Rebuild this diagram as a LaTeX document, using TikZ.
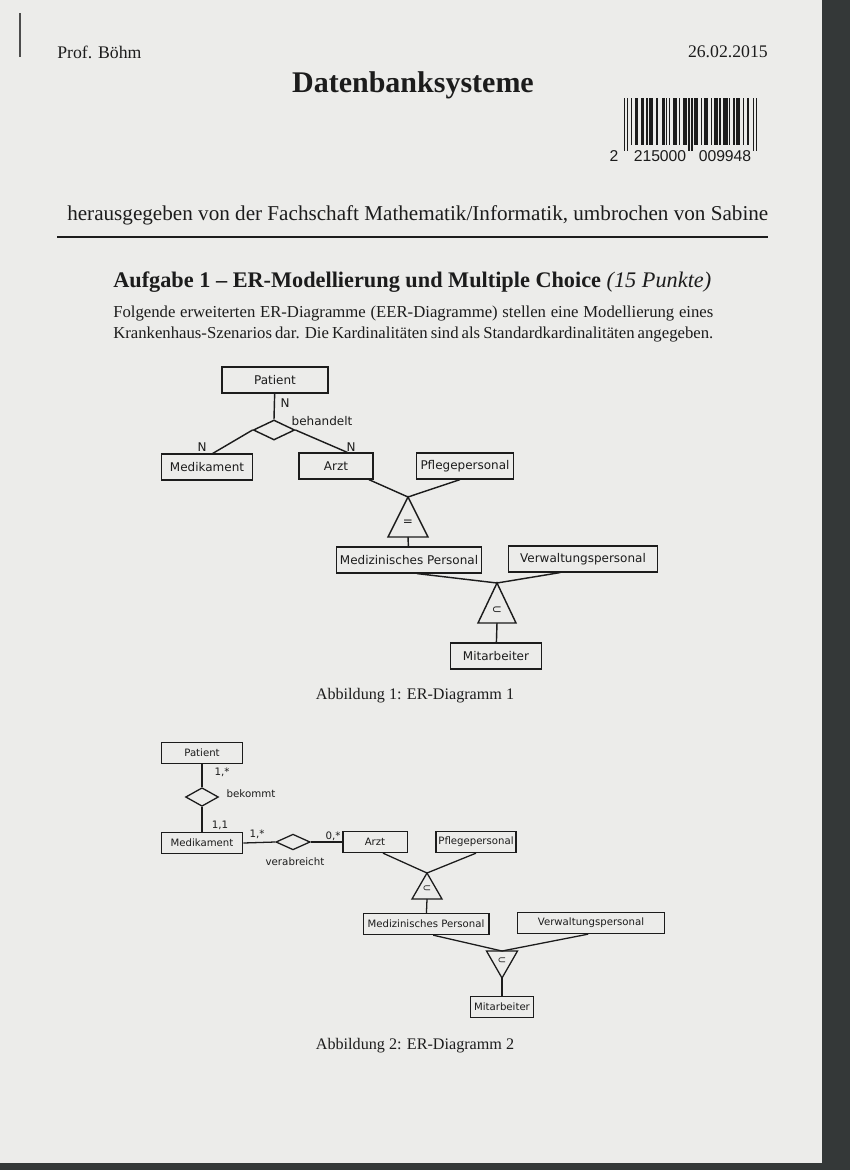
\documentclass[tikz,border=0pt]{standalone}
\usepackage{fontspec}
\setmainfont{Liberation Serif}
\newfontfamily\diafont{DejaVu Sans}
\newfontfamily\codefont{Liberation Sans}
\usetikzlibrary{shapes.geometric}

\definecolor{paper}{RGB}{236,236,234}
\definecolor{scanedge}{RGB}{52,56,56}
\definecolor{ink}{RGB}{28,28,28}

\tikzset{
	entity/.style={draw=ink, line width=1pt, minimum height=18pt, inner sep=1pt, font=\diafont\fontsize{8.4}{9}\selectfont},
	smallentity/.style={entity, line width=0.9pt, minimum height=14.7pt, font=\diafont\fontsize{7.1}{8}\selectfont},
	rel/.style={diamond, draw=ink, line width=1pt, inner sep=0pt},
	card/.style={inner sep=0pt, font=\diafont\fontsize{8.4}{9}\selectfont},
	smallcard/.style={inner sep=0pt, font=\diafont\fontsize{7.2}{8}\selectfont},
	link/.style={draw=ink, line width=1pt},
	smalllink/.style={draw=ink, line width=0.9pt},
	caption/.style={inner sep=0pt, font=\fontsize{11.3}{13}\selectfont}
}

\begin{document}
\begin{tikzpicture}[x=0.7pt, y=-0.7pt, text=ink]
	\fill[paper] (0,0) rectangle (850,1170);
	\fill[scanedge] (822,0) rectangle (850,1170);
	\fill[scanedge] (0,1163) rectangle (850,1170);
	\useasboundingbox (0,0) rectangle (850,1170);

	% Kopf
	\draw[gray!60!black, line width=1.3pt] (20,13) -- (20,57);
	\node[anchor=west, inner sep=0pt, font=\fontsize{12.4}{14}\selectfont] (prof) at (57,52) {Prof. Böhm};
	\node[anchor=east, inner sep=0pt, font=\fontsize{12.4}{14}\selectfont] (datum) at (768,52) {26.02.2015};
	\node[inner sep=0pt, font=\fontsize{21}{25}\selectfont\bfseries] (titel) at (413,85) {Datenbanksysteme};

	% Barcode
	\foreach \b [count=\i] in {1,0,1, 0,0,1,0,0,1,1, 0,0,1,1,0,0,1, 0,1,1,1,0,0,1, 0,0,0,1,1,0,1, 0,1,0,0,1,1,1, 0,1,0,0,1,1,1,
		0,1,0,1,0, 1,1,1,0,0,1,0, 1,1,1,0,0,1,0, 1,1,1,0,1,0,0, 1,1,1,0,1,0,0, 1,0,1,1,1,0,0, 1,0,0,1,0,0,0, 1,0,1}{
		\pgfmathsetmacro\barend{(\i<4 || (\i>45 && \i<51) || \i>92) ? 151 : 145}
		\ifnum\b=1 \fill[ink] ({624+1.4*(\i-1)},98) rectangle ({624+1.4*\i},\barend); \fi
	}
	\node[inner sep=0pt, font=\codefont\fontsize{11}{12}\selectfont] (ean1) at (614,156) {2};
	\node[inner sep=0pt, font=\codefont\fontsize{11}{12}\selectfont] (ean2) at (660,156) {215000};
	\node[inner sep=0pt, font=\codefont\fontsize{11}{12}\selectfont] (ean3) at (725,156) {009948};

	\node[anchor=west, inner sep=0pt, font=\fontsize{14.8}{17}\selectfont] (hrsg) at (67,215) {herausgegeben von der Fachschaft Mathematik/Informatik, umbrochen von Sabine};
	\draw[ink, line width=1.2pt] (57,237) -- (768,237);

	% Aufgabe
	\node[anchor=west, inner sep=0pt, font=\fontsize{15.6}{18}\selectfont] (aufgabe) at (113,282) {\textbf{Aufgabe 1 – ER-Modellierung und Multiple Choice} \textit{(15 Punkte)}};
	\node[anchor=west, inner sep=0pt, font=\fontsize{11.7}{13}\selectfont] (zeile1) at (113,313) {\makebox[420pt][s]{Folgende erweiterten ER-Diagramme (EER-Diagramme) stellen eine Modellierung eines}};
	\node[anchor=west, inner sep=0pt, font=\fontsize{11.7}{13}\selectfont] (zeile2) at (113,334) {\makebox[420pt][s]{Krankenhaus-Szenarios dar. Die Kardinalitäten sind als Standardkardinalitäten angegeben.}};

	% ER-Diagramm 1
	\node[entity, minimum width=74pt] (patient1) at (275,380) {Patient};
	\node[rel, minimum width=29pt, minimum height=14pt] (behandelt) at (274,430) {};
	\node[entity, minimum width=64pt] (medikament1) at (207,467) {Medikament};
	\node[entity, minimum width=52pt] (arzt1) at (336,466) {Arzt};
	\node[entity, minimum width=68pt] (pflege1) at (465,466) {Pflegepersonal};
	\node[entity, minimum width=101.5pt] (medpers1) at (409,560) {Medizinisches Personal};
	\node[entity, minimum width=104pt] (verwaltung1) at (583,559) {Verwaltungspersonal};
	\node[entity, minimum width=64pt] (mitarbeiter1) at (496,656) {Mitarbeiter};
	\node[card] (behandeltlabel) at (322,421) {behandelt};
	\node[card] (n1) at (285,403) {N};
	\node[card] (n2) at (202,447) {N};
	\node[card] (n3) at (351,447) {N};

	\coordinate (tri1top) at (408,497);
	\coordinate (tri1base) at (408,537);
	\draw[link] (tri1top) -- ++(-20,40) -- ++(40,0) -- cycle;
	\node[card] (gleich) at (408,523) {=};
	\coordinate (tri2top) at (497,583);
	\coordinate (tri2base) at (497,623);
	\draw[link] (tri2top) -- ++(-19,40) -- ++(38,0) -- cycle;
	\node[card] (teil1) at (497,610) {⊂};

	\draw[link] (patient1) -- (behandelt.north);
	\draw[link] (behandelt.west) -- ([xshift=4pt]medikament1.north);
	\draw[link] (behandelt.east) -- ([xshift=8pt]arzt1.north);
	\draw[link] ([xshift=-3.5pt]arzt1.south east) -- (tri1top);
	\draw[link] ([xshift=-3.5pt]pflege1.south) -- (tri1top);
	\draw[link] (tri1base) -- (medpers1);
	\draw[link] ([xshift=5.6pt]medpers1.south) -- (tri2top);
	\draw[link] ([xshift=-16pt]verwaltung1.south) -- (tri2top);
	\draw[link] (tri2base) -- (mitarbeiter1);

	\node[caption] (abb1) at (415,696) {Abbildung 1: ER-Diagramm 1};

	% ER-Diagramm 2
	\node[smallentity, minimum width=57pt] (patient2) at (202,753) {Patient};
	\node[rel, line width=0.9pt, minimum width=23pt, minimum height=13pt] (bekommt) at (202,797) {};
	\node[smallentity, minimum width=57pt] (medikament2) at (202,843) {Medikament};
	\node[rel, line width=0.9pt, minimum width=24pt, minimum height=11pt] (verabreicht) at (293,842) {};
	\node[smallentity, minimum width=45pt] (arzt2) at (375,842) {Arzt};
	\node[smallentity, minimum width=56pt] (pflege2) at (476,842) {Pflegepersonal};
	\node[smallentity, minimum width=88pt] (medpers2) at (426,924) {Medizinisches Personal};
	\node[smallentity, minimum width=103pt] (verwaltung2) at (591,923) {Verwaltungspersonal};
	\node[smallentity, minimum width=44pt] (mitarbeiter2) at (502,1007) {Mitarbeiter};
	\node[smallcard] (bekommtlabel) at (251,794) {bekommt};
	\node[smallcard] (verabreichtlabel) at (295,862) {verabreicht};
	\node[smallcard] (k1) at (222,772) {1,*};
	\node[smallcard] (k2) at (220,825) {1,1};
	\node[smallcard] (k3) at (257,834) {1,*};
	\node[smallcard] (k4) at (333,836) {0,*};

	\coordinate (tri3top) at (427,873);
	\coordinate (tri3base) at (427,899);
	\draw[smalllink] (tri3top) -- ++(-15,26) -- ++(30,0) -- cycle;
	\node[smallcard] (teil2) at (427,889) {⊂};
	\coordinate (tri4base) at (502,951);
	\coordinate (tri4tip) at (502,978);
	\draw[smalllink] (tri4tip) -- ++(-15.5,-27) -- ++(31,0) -- cycle;
	\node[smallcard] (teil3) at (502,961) {⊂};

	\draw[smalllink] (patient2) -- (bekommt.north);
	\draw[smalllink] (bekommt.south) -- (medikament2);
	\draw[smalllink] (medikament2.east) -- (verabreicht.west);
	\draw[smalllink] (verabreicht.east) -- (arzt2.west);
	\draw[smalllink] ([xshift=5.6pt]arzt2.south) -- (tri3top);
	\draw[smalllink] (pflege2.south) -- (tri3top);
	\draw[smalllink] (tri3base) -- (medpers2);
	\draw[smalllink] ([xshift=5pt]medpers2.south) -- (tri4base);
	\draw[smalllink] ([xshift=-2pt]verwaltung2.south) -- (tri4base);
	\draw[smalllink] (tri4tip) -- (mitarbeiter2);

	\node[caption] (abb2) at (415,1046) {Abbildung 2: ER-Diagramm 2};
\end{tikzpicture}
\end{document}
